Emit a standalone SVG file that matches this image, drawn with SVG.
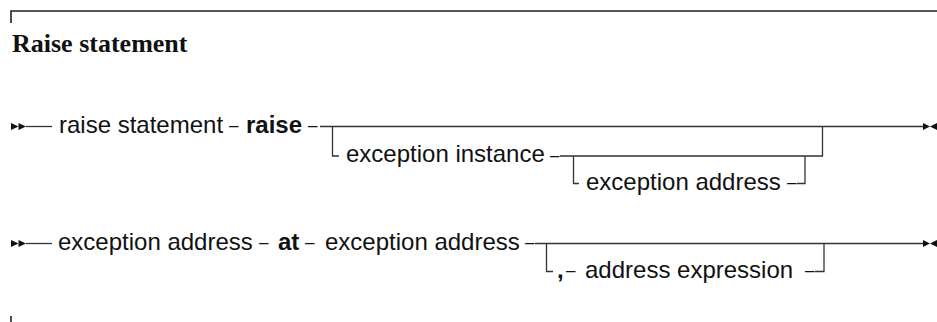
<svg xmlns="http://www.w3.org/2000/svg" xmlns:xlink="http://www.w3.org/1999/xlink" width="937" height="322" viewBox="0 0 937 322">
<style>
.t{font-family:"Liberation Sans",Arial,sans-serif;font-size:24px;fill:#111}
.b{font-weight:bold}
.d{font-family:"Liberation Sans",Arial,sans-serif;font-size:17px;fill:#111}
.title{font-family:"Liberation Serif","Times New Roman",serif;font-size:26px;font-weight:bold;fill:#111}
.ln{fill:none;stroke:#333;stroke-width:1.3}
.rule{fill:none;stroke:#222;stroke-width:1.6}
.ah{fill:#111}
</style>
<defs>
<g id="start"><polygon class="ah" points="0,-3.5 7.5,0 0,3.5"/><polygon class="ah" points="7.5,-3.5 15,0 7.5,3.5"/></g>
<g id="end"><polygon class="ah" points="0,-3.5 7,0 0,3.5"/><polygon class="ah" points="14,-3.5 7,0 14,3.5"/></g>
</defs>
<g id="frame">
<path class="rule" d="M11,23 V11 H937"/>
<path class="rule" d="M11,316 V322"/>
</g>
<g id="title"><text class="title" x="12" y="52">Raise statement</text></g>
<g id="row1">
<text class="t" x="59" y="133">raise statement</text>
<text class="d" x="229" y="131">–</text>
<text class="t b" x="246" y="133">raise</text>
<text class="d" x="308" y="131">–</text>
</g>
<g id="row1-opt1">
<text class="t" x="346" y="162">exception instance</text>
<text class="d" x="550" y="160.5">–</text>
</g>
<g id="row1-opt2">
<text class="t" x="586" y="190">exception address</text>
<text class="d" x="787" y="188">–</text>
</g>
<g id="row2">
<text class="t" x="58" y="250">exception address</text>
<text class="d" x="259" y="248">–</text>
<text class="t b" x="278" y="250">at</text>
<text class="d" x="305" y="248">–</text>
<text class="t" x="325" y="250">exception address</text>
<text class="d" x="525" y="248">–</text>
</g>
<g id="row2-opt">
<text class="t b" x="557" y="278">,</text>
<text class="d" x="566" y="276">–</text>
<text class="t" x="585" y="278">address expression</text>
<text class="d" x="805" y="276">–</text>
</g>
<g id="connectors">
<use xlink:href="#start" x="11" y="126.5"/>
<path class="ln" d="M26,126.5 H52"/>
<path class="ln" d="M320,126.5 H923"/>
<path class="ln" d="M332.5,126.5 V156 H339"/>
<path class="ln" d="M560,156 H822.5 V126.5"/>
<path class="ln" d="M573.5,156 V183.5 H579"/>
<path class="ln" d="M797,183.5 H805 V156"/>
<use xlink:href="#end" x="923" y="126.5"/>
<use xlink:href="#start" x="11" y="243.5"/>
<path class="ln" d="M26,243.5 H52"/>
<path class="ln" d="M535,243.5 H923"/>
<path class="ln" d="M546.5,243.5 V271.5 H553"/>
<path class="ln" d="M815,271.5 H824 V243.5"/>
<use xlink:href="#end" x="923" y="243.5"/>
</g>
</svg>
